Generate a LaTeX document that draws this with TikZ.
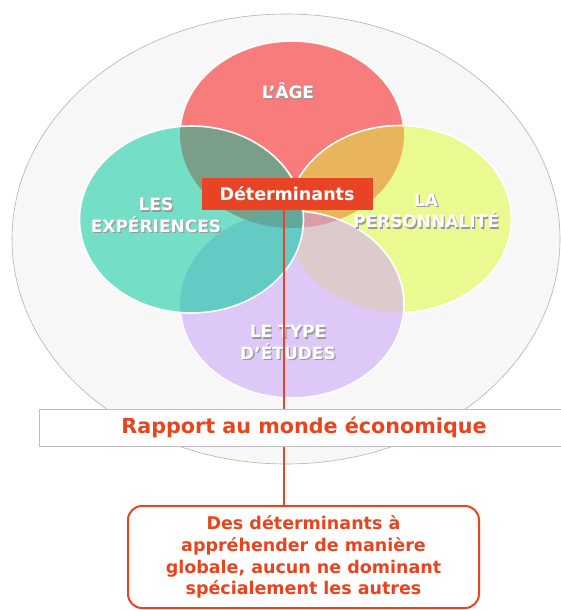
\documentclass[tikz,border=0pt]{standalone}
\usepackage{fontspec}
\setmainfont{DejaVu Sans}
\usetikzlibrary{calc,patterns}
\definecolor{ageRed}{HTML}{F87C7C}
\definecolor{expTeal}{HTML}{74DEC6}
\definecolor{perYellow}{HTML}{EAFA90}
\definecolor{etuPurple}{HTML}{DEC8F8}
\definecolor{ageExp}{HTML}{7A9E87}
\definecolor{agePer}{HTML}{E9B55A}
\definecolor{expEtu}{HTML}{63CBC3}
\definecolor{perEtu}{HTML}{DBCBCC}
\definecolor{agePerEtu}{HTML}{D99EA6}
\definecolor{ageExpEtu}{HTML}{62A79C}
\definecolor{detRed}{HTML}{E94325}
\definecolor{txtRed}{HTML}{E8441E}
\newcommand{\petal}[1]{(#1) ellipse [x radius=112pt, y radius=93.5pt]}
\newcommand{\circlbl}[3]{% name, position, text
  \node[circshadow] at ($(#2)+(1.3,1.3)$) {#3};
  \node[circlabel] (#1) at (#2) {#3};}
\tikzset{
  petalborder/.style={draw=white, line width=1.6pt},
  circlabel/.style={font=\bfseries\fontsize{17}{21.5}\selectfont, text=white, align=center, inner sep=0pt},
  circshadow/.style={circlabel, text=black!40},
  detbox/.style={fill=detRed, text=white, font=\bfseries\fontsize{17.5}{20}\selectfont, minimum width=171pt, minimum height=32pt, inner sep=0pt},
  rapportbox/.style={draw=black!25, fill=white, line width=0.6pt, text=txtRed, font=\bfseries\fontsize{20.7}{24}\selectfont, minimum width=530pt, minimum height=37pt, inner sep=0pt},
  conclbox/.style={draw=txtRed, fill=white, line width=2pt, rounded corners=14pt, text=txtRed, align=center, font=\bfseries\fontsize{17.5}{21.7}\selectfont, minimum width=351pt, minimum height=102pt, inner sep=0pt},
  detline/.style={draw=detRed, line width=1.5pt}
}
\begin{document}
\begin{tikzpicture}[x=1pt,y=-1pt]
\useasboundingbox (0,0) rectangle (561,610);
% outer ellipse
\coordinate (bigc) at (286,239);
\fill[black!1.5] (bigc) ellipse [x radius=274pt, y radius=225pt];
\fill[pattern=north west lines, pattern color=black!5] (bigc) ellipse [x radius=274pt, y radius=225pt];
\draw[black!30, line width=0.6pt] (bigc) ellipse [x radius=274pt, y radius=225pt];
% petal centres
\coordinate (age) at (292,134.5);
\coordinate (exp) at (191.5,219.5);
\coordinate (per) at (399.5,219);
\coordinate (etu) at (292,304.5);
% l'age
\fill[ageRed] \petal{age};
\draw[petalborder] \petal{age};
% personnalite
\fill[perYellow] \petal{per};
\begin{scope}
  \clip \petal{per};
  \fill[agePer] \petal{age};
\end{scope}
\draw[petalborder] \petal{per};
% type d'etudes
\fill[etuPurple] \petal{etu};
\begin{scope}
  \clip \petal{etu};
  \fill[perEtu] \petal{per};
  \clip \petal{age};
  \fill[agePerEtu] \petal{per};
\end{scope}
\draw[petalborder] \petal{etu};
% experiences
\fill[expTeal] \petal{exp};
\begin{scope}
  \clip \petal{exp};
  \fill[ageExp] \petal{age};
  \fill[expEtu] \petal{etu};
  \clip \petal{age};
  \fill[ageExpEtu] \petal{etu};
\end{scope}
\draw[petalborder] \petal{exp};
% labels
\circlbl{lage}{288,91}{L’ÂGE}
\circlbl{lexp}{156,215.5}{LES\\EXPÉRIENCES}
\circlbl{lper}{426,211}{LA\\PERSONNALITÉ}
\circlbl{letu}{288,342.5}{LE TYPE\\D’ÉTUDES}
% boxes
\node[conclbox] (concl) at (303.5,557) {Des déterminants à\\appréhender de manière\\globale, aucun ne dominant\\spécialement les autres};
\node[detbox] (det) at (287,193.5) {Déterminants};
\draw[detline] (det.south -| 284,0) -- (concl.north -| 284,0);
\node[rapportbox] (rapport) at (304,427.5) {Rapport au monde économique};
\end{tikzpicture}
\end{document}
